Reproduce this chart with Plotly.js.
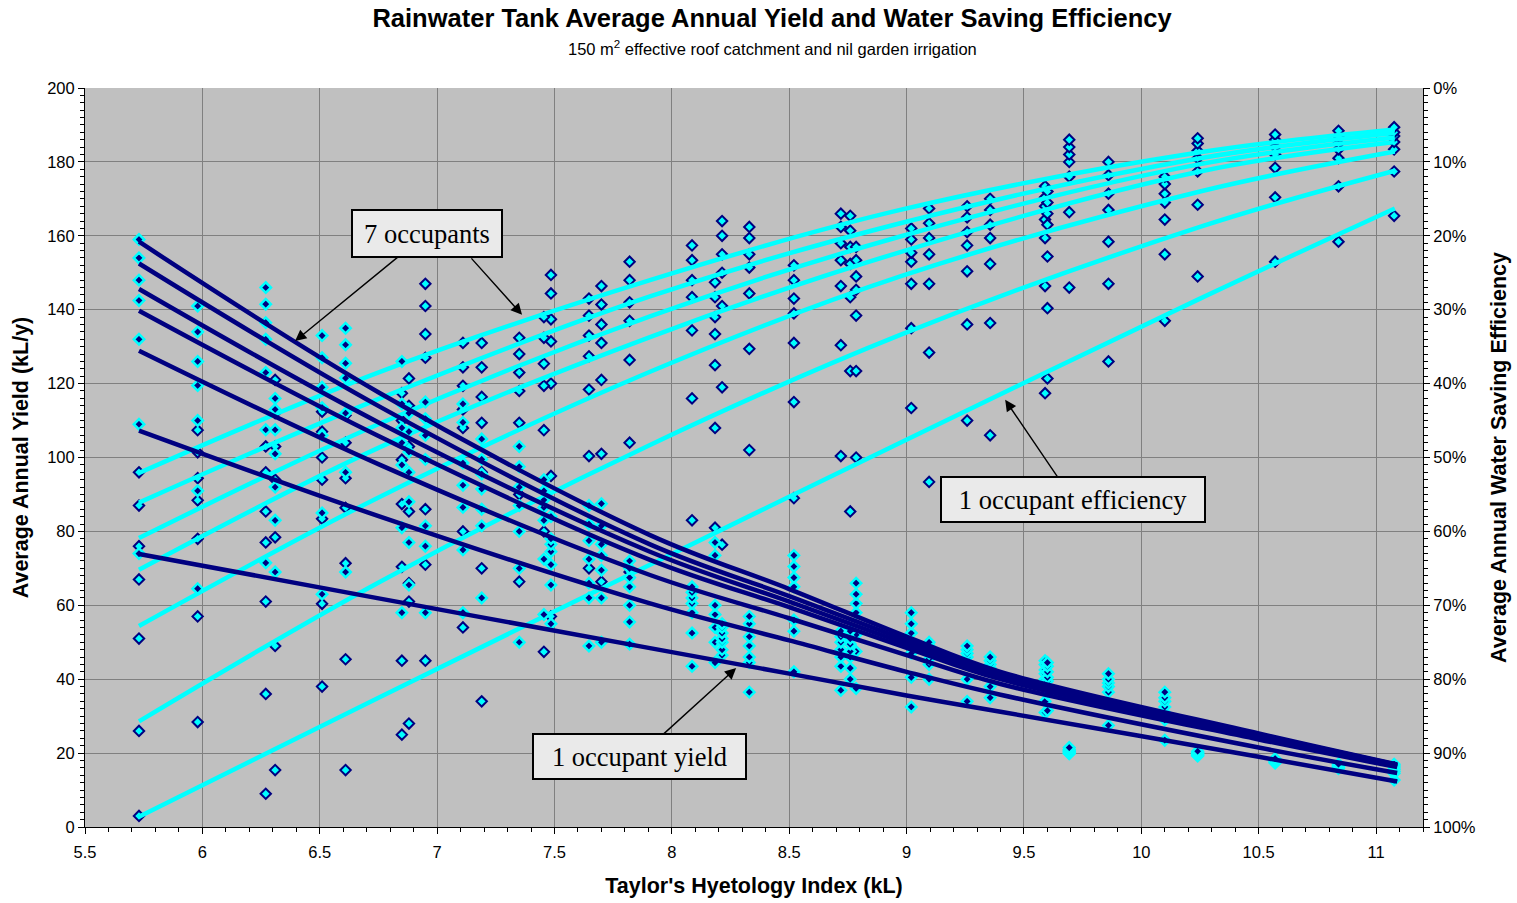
<!DOCTYPE html>
<html>
<head>
<meta charset="utf-8">
<script src="https://cdn.plot.ly/plotly-3.0.1.min.js"></script>
<style>
  html, body { margin: 0; padding: 0; background: #ffffff; }
  #chart { width: 1517px; height: 903px; }
</style>
</head>
<body>
<div id="chart"></div>
<script>
// Taylor's Hyetology Index of each location (kL)
const hyetologyIndex = [5.73, 5.98, 6.27, 6.31, 6.51, 6.61, 6.85, 6.88, 6.95, 7.11, 7.19, 7.35, 7.455, 7.485,
  7.647, 7.70, 7.82, 8.086, 8.184, 8.214, 8.33, 8.52, 8.72, 8.76, 8.785, 9.02, 9.096, 9.258, 9.356,
  9.59, 9.60, 9.693, 9.86, 10.10, 10.24, 10.57, 10.84, 11.077];

// Average annual yield (kL/y) by number of occupants
const yield7 = [159, 141, 146, 116, 133, 135, 126, 112, 115, 114.5, 105, 103, 94, 84, 87, 87.5, 72, 65, 77, 55, 57, 73.5, 53, 53, 66, 58, 50, 49, 46, 45, 44.5, 21.5, 41.5, 36.5, 20.5, 18.5, 17, 17];
const yield6 = [154, 134, 141.5, 113, 127, 130.5, 114.5, 107, 110.5, 109.5, 99.5, 97.5, 91, 78, 82, 81.5, 70, 63.5, 73.5, 54, 55, 70.5, 51.5, 51, 63, 55, 49, 48, 45, 44, 43.5, 21, 40, 35, 20.2, 18.3, 16.8, 16.5];
const yield5 = [148, 126, 136.5, 107.5, 119, 125.5, 108, 101.5, 106, 98.5, 95.5, 92, 88.5, 76.5, 77.5, 76.5, 67.5, 62, 60, 52.5, 51.5, 67.5, 50, 49.5, 60.5, 52.5, 48, 47, 44, 42.5, 42, 20.8, 39, 34, 20, 18.1, 16.6, 16];
const yield4 = [142.5, 119.5, 132, 101, 113.5, 121.5, 104, 96, 99.5, 92.5, 91.5, 87, 86.5, 74.5, 72.5, 73.5, 65, 60.5, 57.5, 51, 49, 65, 48, 47.5, 58, 49.5, 47, 46, 43, 41.5, 40.5, 20.5, 38, 32.5, 19.8, 17.9, 16.4, 15.5];
const yield3 = [132, 110, 123, 92, 106, 112, 98, 88, 81.5, 86.5, 86, 80, 83, 71, 66, 69.5, 60, 58, 54, 50, 46, 56, 46, 46, 52, 47, 45.5, 44.5, 42, 40, 39.5, 20.3, 36.5, 31, 19.6, 17.7, 16.3, 15];
const yield2 = [109, 91, 107.5, 83, 85, 96, 81, 77, 76, 75, 81.5, 70, 72.5, 65.5, 62, 62, 55.5, 52.5, 50, 48, 44.5, 53, 43.5, 43, 47.5, 40.5, 44, 40, 38, 34, 36, 20, 33.5, 29, 19.4, 17.5, 16, 14.5];
const yield1 = [74, 64.5, 71.5, 69, 63, 69, 58, 65.5, 58, 58, 62, 50, 57.5, 55, 49, 50, 49.5, 43.5, 44.5, 46.5, 36.5, 42, 37, 40, 37.5, 32.5, 40, 34, 35, 31, 31.5, 19.8, 27.5, 23.5, 19.2, 17.3, 15.8, 12.7];

// Average annual water saving efficiency (%) by number of occupants
const eff7 = [52, 46.3, 48.5, 39.5, 43.8, 44.3, 41.3, 39.3, 26.5, 34.5, 34.5, 33.8, 31, 25.3, 28.5, 26.8, 23.5, 21.3, 26.3, 18, 18.8, 24, 17, 17.3, 21.5, 19, 16.3, 16, 15, 13.3, 14, 7, 10, 12, 6.8, 6.3, 5.8, 5.3];
const eff6 = [56.5, 49.3, 52, 44, 46.5, 48, 45, 43, 29.5, 37.8, 37.8, 36, 33.8, 27.8, 30.8, 29.3, 26, 23.3, 28.3, 20, 20.3, 26, 18.8, 19.3, 23.3, 20.5, 18.3, 17.5, 16.5, 14.8, 15.5, 8, 11.8, 13, 7.5, 7, 6.5, 6];
const eff5 = [62, 52.8, 57.3, 48.5, 50, 52.8, 50.3, 48.5, 33.3, 40.3, 41.8, 38.5, 37.3, 31.3, 33.5, 32, 29, 26, 31, 22.5, 22.5, 28.5, 21, 21.5, 25.5, 22.3, 20.3, 19.5, 18.5, 16, 17, 9, 14.3, 14.3, 8.5, 8, 7.5, 6.5];
const eff4 = [66.5, 55.8, 61.5, 53, 53, 56.8, 56.3, 57.3, 36.5, 43.5, 45.3, 41, 40.3, 34.3, 36.3, 34.5, 31.5, 28.3, 33.3, 25, 24.3, 30.5, 23.3, 23.8, 27.3, 23.5, 22.5, 21.3, 20.3, 17.8, 18.5, 10, 16.5, 15.5, 9.5, 9, 8.3, 7.3];
const eff3 = [74.5, 61, 69.5, 60.8, 58.3, 64.3, 64.8, 67, 57, 46, 52, 45.3, 46.3, 40, 40.8, 39.5, 36.8, 32.8, 37.5, 29.5, 27.8, 34.5, 26.8, 28.3, 30.8, 26.5, 26.5, 24.8, 23.8, 20.3, 22.8, 12, 20.8, 17.8, 11.3, 10.8, 9.5, 8.3];
const eff2 = [87, 71.5, 82, 75.5, 69.8, 77.3, 77.5, 69.5, 64.5, 60, 65, 55, 60, 52.5, 49.8, 49.5, 48, 42, 46, 40.5, 35.3, 42.5, 34.8, 38.3, 38.3, 32.5, 35.8, 32, 31.8, 26.8, 29.8, 16.8, 26.5, 22.5, 15.8, 14.8, 13.3, 11.3];
const eff1 = [98.5, 85.8, 95.5, 92.3, 81, 92.3, 87.5, 86, 77.5, 73, 83, 66.8, 76.3, 71.5, 65, 66.8, 65.5, 58.5, 59.5, 61.8, 49, 55.5, 49.8, 57.3, 50, 43.3, 53.3, 45, 47, 41.3, 39.3, 27, 37, 31.5, 25.5, 23.5, 20.8, 17.3];

// Fitted yield curves (kL/y)
const yieldFitIndex = [5.73, 6.757, 7.907, 8.5, 9.0, 9.4, 10.5, 11.09];
const yieldFit7 = [158.4, 117.4, 79.0, 64.4, 51.5, 42.0, 25.3, 16.9];
const yieldFit6 = [152.5, 113.7, 76.5, 62.5, 50.5, 41.3, 25.0, 16.8];
const yieldFit5 = [145.6, 109.3, 74.5, 61.0, 49.5, 40.7, 24.7, 16.7];
const yieldFit4 = [139.7, 105.6, 72.3, 59.5, 48.5, 40.0, 24.3, 16.5];
const yieldFit3 = [128.9, 98.0, 68.2, 56.5, 46.5, 38.7, 23.7, 16.2];
const yieldFit2 = [107.3, 84.0, 60.5, 50.5, 42.0, 35.8, 21.5, 14.6];
const yieldFit1 = [73.9, 61.8, 48.4, 41.5, 35.6, 31.2, 19.0, 12.3];

// Fitted efficiency curves (%)
const effFitIndex = [5.73, 6.757, 7.907, 8.973, 10.25, 11.08];
const effFit7 = [52.1, 38.4, 26.0, 16.5, 8.7, 5.6];
const effFit6 = [56.1, 42.0, 28.2, 18.3, 9.5, 6.1];
const effFit5 = [60.9, 45.4, 30.9, 20.1, 10.3, 6.7];
const effFit4 = [65.2, 48.6, 33.7, 22.2, 11.3, 7.3];
const effFit3 = [72.8, 55.3, 38.4, 25.5, 14.0, 8.6];
const effFit2 = [85.7, 66.8, 48.3, 33.4, 18.8, 11.2];
const effFit1 = [98.6, 82.4, 64.5, 48.0, 28.5, 16.3];

const NAVY = '#000080';
const CYAN = '#00FFFF';
const SANS = 'Liberation Sans, Arial, Helvetica, sans-serif';
const SERIF = 'Liberation Serif, Times New Roman, serif';

const effPoints = [eff1, eff2, eff3, eff4, eff5, eff6, eff7];
const effFits = [effFit1, effFit2, effFit3, effFit4, effFit5, effFit6, effFit7];
const yieldPoints = [yield1, yield2, yield3, yield4, yield5, yield6, yield7];
const yieldFits = [yieldFit1, yieldFit2, yieldFit3, yieldFit4, yieldFit5, yieldFit6, yieldFit7];

const traces = [];

// Efficiency (right axis): markers, then fitted curves
effPoints.forEach((vals, i) => traces.push({
  type: 'scatter', mode: 'markers', name: (i + 1) + ' occupant efficiency',
  x: hyetologyIndex, y: vals, xaxis: 'x', yaxis: 'y',
  marker: { symbol: 'diamond', size: 8, color: CYAN, line: { color: NAVY, width: 2 } },
  hoverinfo: 'x+y'
}));
effFits.forEach((vals, i) => traces.push({
  type: 'scatter', mode: 'lines', name: (i + 1) + ' occupant efficiency trend',
  x: effFitIndex, y: vals, xaxis: 'x', yaxis: 'y',
  line: { color: CYAN, width: 4.5, shape: 'spline', smoothing: 1 },
  hoverinfo: 'skip'
}));

// Yield (left axis): markers, then fitted curves
yieldPoints.forEach((vals, i) => traces.push({
  type: 'scatter', mode: 'markers', name: (i + 1) + ' occupant yield',
  x: hyetologyIndex, y: vals, xaxis: 'x', yaxis: 'y2',
  marker: { symbol: 'diamond', size: 8, color: NAVY, line: { color: CYAN, width: 2.5 } },
  hoverinfo: 'x+y'
}));
yieldFits.forEach((vals, i) => traces.push({
  type: 'scatter', mode: 'lines', name: (i + 1) + ' occupant yield trend',
  x: yieldFitIndex, y: vals, xaxis: 'x', yaxis: 'y2',
  line: { color: NAVY, width: 4.5, shape: 'spline', smoothing: 1 },
  hoverinfo: 'skip'
}));

// Call-out boxes: each arrow points at its curve, the box sits at the arrow tail
const callout = {
  bgcolor: '#EAEAEA', bordercolor: '#000000', borderwidth: 2,
  font: { family: SERIF, size: 26.5, color: '#000000' },
  xref: 'x', yref: 'y2', align: 'center', valign: 'middle',
  showarrow: true, arrowhead: 2, arrowsize: 1.6, arrowwidth: 1.4, arrowcolor: '#000000',
  axref: 'pixel', ayref: 'pixel'
};

const annotations = [
  {
    text: '150 m<sup>2</sup> effective roof catchment and nil garden irrigation',
    xref: 'paper', yref: 'paper', x: 0.5135, y: 1.0541, xanchor: 'center', yanchor: 'middle',
    showarrow: false, font: { family: SANS, size: 16.5, color: '#000000' }
  },
  // second pointer of the "7 occupants" call-out
  {
    text: '', xref: 'x', yref: 'y2', x: 7.362, y: 138.6, ax: -52, ay: -58,
    axref: 'pixel', ayref: 'pixel',
    showarrow: true, arrowhead: 2, arrowsize: 1.6, arrowwidth: 1.4, arrowcolor: '#000000'
  },
  Object.assign({}, callout, { text: '7 occupants', x: 6.395, y: 131.5, ax: 132, ay: -108, width: 146, height: 43 }),
  Object.assign({}, callout, { text: '1 occupant efficiency', x: 9.42, y: 115.6, ax: 68, ay: 100, width: 260, height: 41 }),
  Object.assign({}, callout, { text: '1 occupant yield', x: 8.274, y: 43.0, ax: -97, ay: 88, width: 209, height: 41 })
];

const layout = {
  width: 1517, height: 903,
  margin: { l: 85, r: 94, t: 88, b: 76, pad: 0 },
  paper_bgcolor: '#FFFFFF',
  plot_bgcolor: '#C0C0C0',
  showlegend: false,
  font: { family: SANS, size: 16.5, color: '#000000' },
  title: {
    text: '<b>Rainwater Tank Average Annual Yield and Water Saving Efficiency</b>',
    font: { family: SANS, size: 25.5, color: '#000000' },
    xref: 'paper', x: 0.5135, xanchor: 'center',
    yref: 'container', y: 1 - 18 / 903, yanchor: 'middle'
  },
  xaxis: {
    range: [5.5, 11.2], tick0: 5.5, dtick: 0.5,
    showgrid: true, gridcolor: '#808080', gridwidth: 1, zeroline: false,
    showline: true, linecolor: '#000000', linewidth: 1,
    ticks: 'outside', ticklen: 6, tickcolor: '#000000', ticklabelstandoff: 4,
    minor: { dtick: 0.1, tick0: 5.5, ticks: 'outside', ticklen: 4, tickcolor: '#000000', showgrid: false },
    tickfont: { family: SANS, size: 16.5 },
    title: { text: "<b>Taylor's Hyetology Index (kL)</b>", font: { family: SANS, size: 21.5 }, standoff: 18 },
    anchor: 'y'
  },
  yaxis: {
    side: 'right', range: [100, 0], tick0: 0, dtick: 10, ticksuffix: '%',
    showgrid: true, gridcolor: '#808080', gridwidth: 1, zeroline: false,
    showline: true, linecolor: '#000000', linewidth: 1,
    ticks: 'outside', ticklen: 6, tickcolor: '#000000',
    minor: { dtick: 1, ticks: 'outside', ticklen: 4, tickcolor: '#000000', showgrid: false },
    tickfont: { family: SANS, size: 16.5 },
    title: { text: '<b>Average Annual Water Saving Efficiency</b>', font: { family: SANS, size: 21.5 }, standoff: 16 },
    anchor: 'x'
  },
  yaxis2: {
    side: 'left', overlaying: 'y', range: [0, 200], tick0: 0, dtick: 20,
    showgrid: false, zeroline: false,
    showline: true, linecolor: '#000000', linewidth: 1,
    ticks: 'outside', ticklen: 6, tickcolor: '#000000',
    minor: { dtick: 2, ticks: 'outside', ticklen: 4, tickcolor: '#000000', showgrid: false },
    tickfont: { family: SANS, size: 16.5 },
    title: { text: '<b>Average Annual Yield (kL/y)</b>', font: { family: SANS, size: 21.5 }, standoff: 12 },
    anchor: 'x'
  },
  annotations: annotations
};

Plotly.newPlot('chart', traces, layout, { displayModeBar: false, staticPlot: true });
</script>
</body>
</html>
